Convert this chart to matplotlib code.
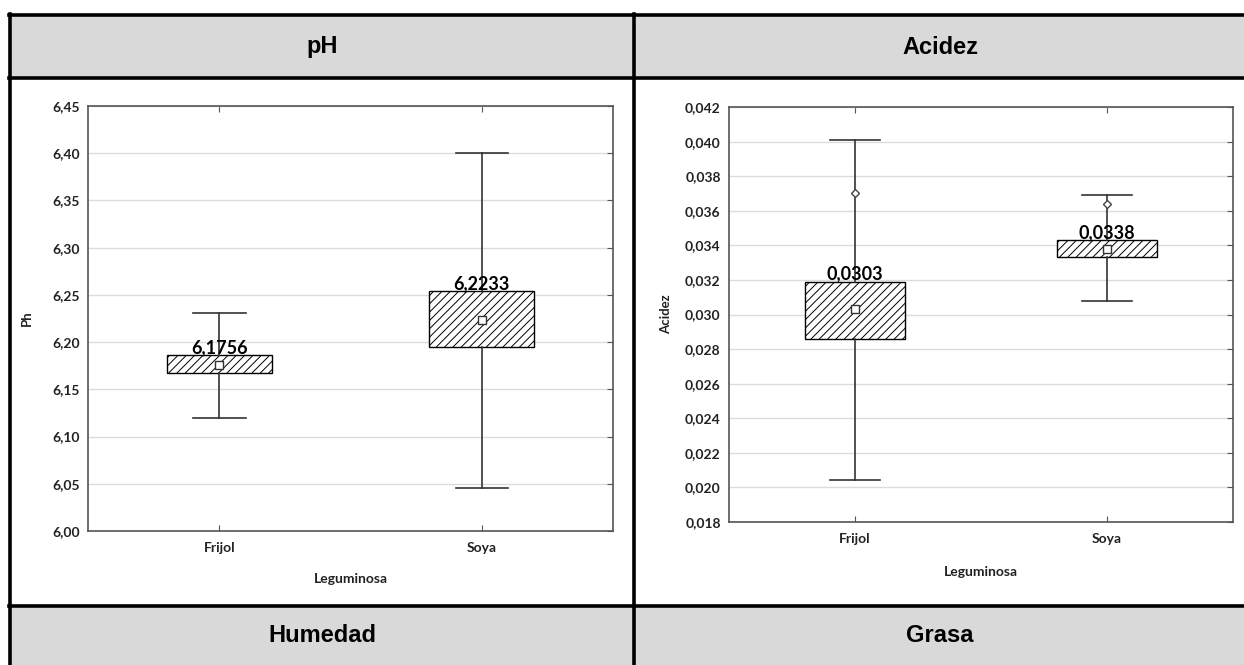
import matplotlib
matplotlib.use("Agg")
import matplotlib.pyplot as plt
from matplotlib.patches import Rectangle
from matplotlib.lines import Line2D
from matplotlib.ticker import FixedLocator, FuncFormatter

# Datos por leguminosa
categorias = ["Frijol", "Soya"]

ph_media = [6.1756, 6.2233]
ph_q1 = [6.167, 6.195]
ph_q3 = [6.186, 6.254]
ph_min = [6.120, 6.046]
ph_max = [6.231, 6.400]

acidez_media = [0.0303, 0.0338]
acidez_q1 = [0.0286, 0.0333]
acidez_q3 = [0.0319, 0.0343]
acidez_min = [0.0204, 0.0308]
acidez_max = [0.0401, 0.0369]
acidez_atipicos = [[0.0370], [0.0364]]

encabezados_arriba = ["pH", "Acidez"]
encabezados_abajo = ["Humedad", "Grasa"]

W, H = 1244, 665
fig = plt.figure(figsize=(W / 100, H / 100), dpi=100)
fig.patch.set_facecolor("white")
plt.rcParams["hatch.linewidth"] = 0.7


def fx(x):
    return x / W


def fy(y):
    return 1 - y / H


# Tabla de fondo: filas de encabezado grises y bordes negros
gris = "#d9d9d9"
for y0, y1 in [(15, 78), (606, 665)]:
    fig.add_artist(Rectangle((fx(9), fy(y1)), fx(W) - fx(9), fy(y0) - fy(y1),
                             transform=fig.transFigure, facecolor=gris,
                             edgecolor="none", zorder=0))
for y in [15, 78, 606]:
    fig.add_artist(Line2D([fx(9), fx(W)], [fy(y), fy(y)], transform=fig.transFigure,
                          color="black", lw=2.6, zorder=3))
for x in [9.5, 634]:
    fig.add_artist(Line2D([fx(x), fx(x)], [fy(14), fy(H)], transform=fig.transFigure,
                          color="black", lw=2.6, zorder=3))

centros = [322, 940]
for cx, t in zip(centros, encabezados_arriba):
    fig.text(fx(cx), fy(47), t, ha="center", va="center", fontsize=17,
             fontweight="bold", family="Liberation Sans")
for cx, t in zip(centros, encabezados_abajo):
    fig.text(fx(cx), fy(636), t, ha="center", va="center", fontsize=17,
             fontweight="bold", family="Liberation Sans")

fuente = "Lato"


def caja(ax, media, q1, q3, vmin, vmax, fliers, ylim, paso, fmt, fmt_media, ylabel):
    stats = []
    for i in range(len(categorias)):
        stats.append(dict(med=media[i], q1=q1[i], q3=q3[i], whislo=vmin[i],
                          whishi=vmax[i], mean=media[i], fliers=fliers[i],
                          label=categorias[i]))
    pos = list(range(1, len(categorias) + 1))
    ax.bxp(stats, positions=pos, widths=0.4, capwidths=0.2, patch_artist=True,
           showmeans=True, showfliers=True,
           boxprops=dict(facecolor="white", edgecolor="black", hatch="////", lw=1.0),
           medianprops=dict(lw=0),
           whiskerprops=dict(color="#333333", lw=1.2),
           capprops=dict(color="#333333", lw=1.2),
           meanprops=dict(marker="s", markersize=5.5, markerfacecolor="white",
                          markeredgecolor="#333333", markeredgewidth=1.0),
           flierprops=dict(marker="D", markersize=4.5, markerfacecolor="white",
                           markeredgecolor="#444444", markeredgewidth=1.0))
    for p, m, top in zip(pos, media, q3):
        ax.annotate(fmt_media(m), (p, top), xytext=(0, -0.5), textcoords="offset points",
                    ha="center", va="bottom", fontsize=13, fontweight="bold",
                    family=fuente, color="black", zorder=5)

    ax.set_xlim(0.5, 2.5)
    ax.set_ylim(*ylim)
    n = int(round((ylim[1] - ylim[0]) / paso))
    ticks = [ylim[0] + i * paso for i in range(n + 1)]
    ax.yaxis.set_major_locator(FixedLocator(ticks))
    ax.yaxis.set_major_formatter(FuncFormatter(lambda v, _: fmt(v)))
    ax.set_xticks(pos)
    ax.set_xticklabels(categorias)

    ax.grid(axis="y", color="#dcdcdc", lw=1.0)
    ax.set_axisbelow(True)
    for s in ax.spines.values():
        s.set_color("#555555")
        s.set_linewidth(1.2)
    ax.tick_params(axis="y", left=False, right=True, direction="in", length=4,
                   color="#555555", pad=6, labelsize=10, labelcolor="#222222")
    ax.tick_params(axis="x", top=True, bottom=True, direction="in", length=4,
                   color="#555555", pad=8, labelsize=10, labelcolor="#222222")
    for lbl in ax.get_xticklabels() + ax.get_yticklabels():
        lbl.set_fontweight("bold")
        lbl.set_family(fuente)

    ax.set_ylabel(ylabel, fontsize=9.5, fontweight="bold", family=fuente, color="#222222")
    ax.set_xlabel("Leguminosa", fontsize=10, fontweight="bold", family=fuente,
                  color="#222222")


ax1 = fig.add_axes([fx(88), fy(531), fx(613) - fx(88), fy(106) - fy(531)])
caja(ax1, ph_media, ph_q1, ph_q3, ph_min, ph_max, [[], []], (6.00, 6.45), 0.05,
     lambda v: f"{v:.2f}".replace(".", ","),
     lambda v: f"{v:.4f}".replace(".", ","), "Ph")
ax1.yaxis.set_label_coords(-0.105, 0.5)
ax1.xaxis.set_label_coords(0.5, -0.099)

ax2 = fig.add_axes([fx(729), fy(522), fx(1233) - fx(729), fy(107) - fy(522)])
caja(ax2, acidez_media, acidez_q1, acidez_q3, acidez_min, acidez_max, acidez_atipicos,
     (0.018, 0.042), 0.002,
     lambda v: f"{v:.3f}".replace(".", ","),
     lambda v: f"{v:.4f}".replace(".", ","), "Acidez")
ax2.yaxis.set_label_coords(-0.113, 0.5)
ax2.xaxis.set_label_coords(0.5, -0.105)

fig.savefig("out.png", dpi=100)
